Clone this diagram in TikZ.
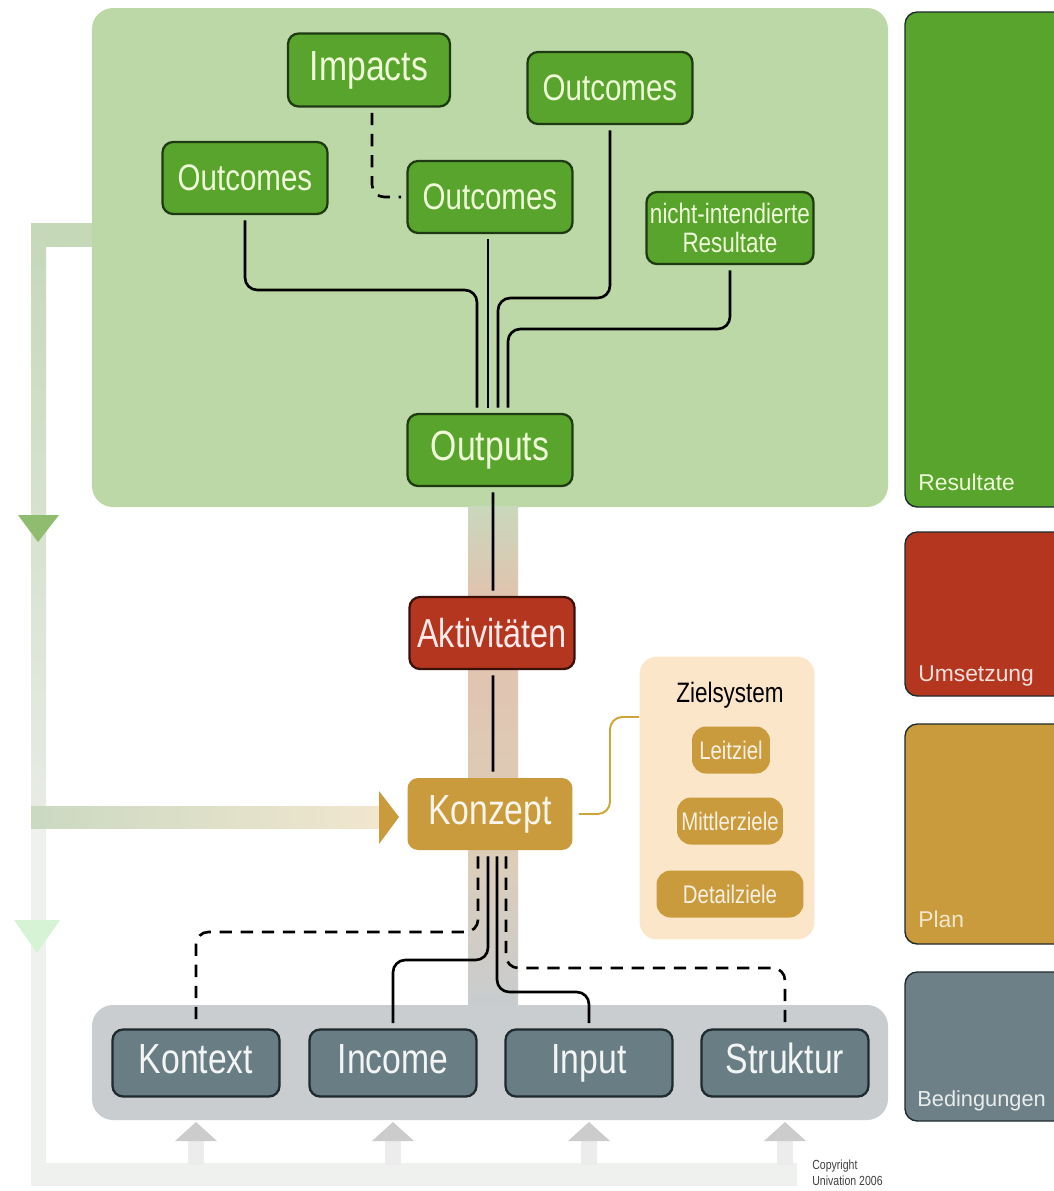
\documentclass[tikz,border=0pt]{standalone}
\usepackage{fontspec}
\setmainfont{Liberation Sans}[FakeStretch=0.8]
\newfontfamily\bandfont{Liberation Sans}
\definecolor{pgreen}{HTML}{BDD8A7}
\definecolor{bgreen}{HTML}{58A42C}
\definecolor{dgreen}{HTML}{1F3A12}
\definecolor{tgreen}{HTML}{EEFAD8}
\definecolor{bred}{HTML}{B5361E}
\definecolor{dred}{HTML}{3A1008}
\definecolor{btan}{HTML}{C99B3C}
\definecolor{ptan}{HTML}{FCE6C9}
\definecolor{bslate}{HTML}{687D84}
\definecolor{rslate}{HTML}{6E8087}
\definecolor{dslate}{HTML}{1E2A2E}
\definecolor{pgray}{HTML}{C9CDD0}
\definecolor{fbgreen}{HTML}{C5D8B8}
\definecolor{fbpale}{HTML}{EEF1EE}
\definecolor{fbtri}{HTML}{8FBC6E}
\definecolor{cbtop}{HTML}{C9D8BC}
\definecolor{cbmid}{HTML}{E2C2AE}
\definecolor{cblow}{HTML}{DCCDB9}
\definecolor{cbbot}{HTML}{C8CCCF}

\begin{document}
\begin{tikzpicture}[x=0.02cm, y=-0.02cm]
\tikzset{bx/.style={rounded corners=6pt, minimum width=3.3cm, minimum height=1.44cm,
    inner sep=2pt, line width=1.3pt, font=\fontsize{24}{26}\selectfont},
  gbx/.style={bx, fill=bgreen, draw=dgreen, text=tgreen},
  rbx/.style={bx, fill=bred, draw=dred, text=white!92!red},
  obx/.style={bx, fill=btan, text=white!90!btan},
  sbx/.style={bx, fill=bslate, draw=dslate, text=white!92!bslate, minimum width=3.34cm,
    minimum height=1.34cm, text height=17pt, text depth=5pt},
  zbx/.style={rounded corners=8pt, fill=btan, text=white!85!btan, minimum height=0.94cm,
    inner sep=2pt, font=\fontsize{14.5}{16}\selectfont},
  ln/.style={line width=1.5pt, rounded corners=7pt, shorten <=3pt, shorten >=3pt},
  dln/.style={ln, dash pattern=on 7pt off 5pt},
  band/.style={draw=dslate, line width=0.8pt, rounded corners=7pt},
  blab/.style={anchor=base west, inner sep=0pt, font=\bandfont\fontsize{13}{15}\selectfont}}

\clip (0,0) rectangle (1054,1191);
\fill[white] (0,0) rectangle (1054,1191);

% feedback bands on the left
\fill[fbgreen] (31,223) rectangle (92,247);
\shade[top color=fbgreen, bottom color=fbgreen!70!gray!30] (31,223) rectangle (46,806);
\fill[fbpale] (31,806) rectangle (46,1186);
\shade[left color=gray!10!fbgreen!80, right color=btan!25] (31,806) rectangle (380,828);
\fill[fbpale] (31,1163) rectangle (797,1186);
\fill[fbtri] (18,515) -- (59,515) -- (38,542) -- cycle;
\fill[btan] (379,791) -- (399,817) -- (379,844) -- cycle;
\fill[green!10!fbpale] (14,920) -- (60,920) -- (37,953) -- cycle;
\foreach \x in {196,393,589,785}{
  \fill[gray!15] (\x-8,1140) rectangle (\x+8,1165);
  \fill[gray!40] (\x-21,1141) -- (\x,1122) -- (\x+21,1141) -- cycle;
}

% panels
\fill[pgreen, rounded corners=12pt] (92,8) rectangle (888,507);
\shade[top color=cbtop, bottom color=cbmid] (468,506) rectangle (518,600);
\shade[top color=cbmid, bottom color=cblow] (468,599) rectangle (518,860);
\shade[top color=cblow, bottom color=cbbot] (468,859) rectangle (518,1006);
\fill[pgray, rounded corners=12pt] (92,1005) rectangle (888,1120);
\node[fill=ptan, rounded corners=10pt, minimum width=3.5cm, minimum height=5.66cm] (zs) at (727,798) {};

% right-hand bands
\draw[band, fill=bgreen] (905,12) rectangle (1075,507);
\node[blab, text=tgreen] (res) at (918,490) {Resultate};
\draw[band, fill=bred] (905,532) rectangle (1075,696);
\node[blab, text=white!85!bred] (ums) at (918,681) {Umsetzung};
\draw[band, fill=btan] (905,724) rectangle (1075,944);
\node[blab, text=white!75!btan] (pla) at (918,927) {Plan};
\draw[band, fill=rslate] (905,972) rectangle (1075,1121);
\node[blab, text=white!85!rslate, font=\bandfont\fontsize{12.4}{15}\selectfont] (bed) at (917,1106) {Bedingungen};

% boxes
\node[gbx, minimum width=3.24cm, minimum height=1.46cm] (imp) at (369,70) {Impacts};
\node[gbx, font=\fontsize{21}{23}\selectfont] (oc3) at (610,88) {Outcomes};
\node[gbx, font=\fontsize{21}{23}\selectfont] (oc1) at (245,178) {Outcomes};
\node[gbx, font=\fontsize{21}{23}\selectfont] (oc2) at (490,197) {Outcomes};
\node[gbx, align=center, font=\fontsize{16}{17}\selectfont] (nir) at (730,228) {nicht-intendierte\\Resultate};
\node[gbx, text height=17pt, text depth=5pt] (out) at (490,450) {Outputs};
\node[rbx, font=\fontsize{23}{25}\selectfont] (akt) at (492,633) {Aktivitäten};
\node[obx, text height=17pt, text depth=5pt] (kon) at (490,814) {Konzept};

\node[font=\fontsize{16}{18}\selectfont] (zt) at (730,695) {Zielsystem};
\node[zbx, minimum width=1.56cm] (lz) at (731,750) {Leitziel};
\node[zbx, minimum width=2.12cm] (mz) at (730,821) {Mittlerziele};
\node[zbx, minimum width=2.94cm] (dz) at (730,894) {Detailziele};

\node[sbx] (kx) at (196,1063) {Kontext};
\node[sbx] (inc) at (393,1063) {Income};
\node[sbx] (inp) at (589,1063) {Input};
\node[sbx] (str) at (785,1063) {Struktur};

\node[anchor=north west, align=left, text=black!75, inner sep=0pt,
  font=\fontsize{7.5}{9}\selectfont] (cr) at (812,1160) {Copyright\\Univation 2006};

% connectors
\draw[dln] ([xshift=0.06cm]imp.south) |- (oc2.west);
\draw[ln] (oc1.south) |- (477,290) -- ([xshift=-0.26cm]out.north);
\draw[ln] ([xshift=-0.04cm]oc2.south) -- ([xshift=-0.04cm]out.north);
\draw[ln] (oc3.south) |- (498,298) -- ([xshift=0.16cm]out.north);
\draw[ln] (nir.south) |- (508,329) -- ([xshift=0.36cm]out.north);
\draw[ln] ([xshift=0.06cm]out.south) -- ([xshift=0.02cm]akt.north);
\draw[ln] ([xshift=0.02cm]akt.south) -- ([xshift=0.06cm]kon.north);
\draw[ln, line width=1.1pt, color=btan!90!yellow, shorten >=0pt] (kon.east) -- (610,814) -- (610,717) -- ([yshift=1.62cm]zs.west);
\draw[dln] ([xshift=-0.24cm]kon.south) |- (196,932) -- (kx.north);
\draw[ln] ([xshift=-0.04cm]kon.south) |- (393,960) -- (inc.north);
\draw[ln] ([xshift=0.14cm]kon.south) |- (589,992) -- (inp.north);
\draw[dln] ([xshift=0.32cm]kon.south) |- (785,968) -- (str.north);
\end{tikzpicture}
\end{document}
